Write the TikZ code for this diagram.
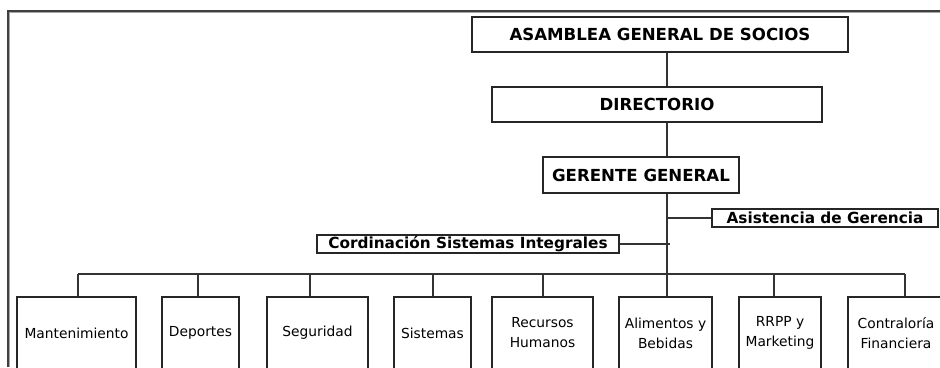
\documentclass[tikz,border=0pt]{standalone}
\usepackage{fontspec}
\setmainfont{DejaVu Sans}
\begin{document}
\begin{tikzpicture}[x=1pt,y=-1pt,
  line width=1.3pt,
  topbox/.style={draw=black!85, line width=1.3pt, inner sep=0pt, font=\bfseries\fontsize{16.6}{19}\selectfont},
  sidebox/.style={draw=black!85, line width=1.3pt, inner sep=0pt, font=\bfseries\fontsize{15.3}{18}\selectfont},
  unitbox/.style={draw=black!85, line width=1.3pt, inner sep=0pt, minimum height=72pt, align=center, font=\fontsize{13.8}{20}\selectfont},
  conn/.style={draw=black!80, line width=1.3pt}]
\useasboundingbox (0,0) rectangle (940,367);
\clip (0,0) rectangle (940,367);
% frame
\draw[black!75, line width=1.6pt] (8,367) -- (8,11) -- (940,11);
\draw[black!35, line width=0.8pt] (9.6,367) -- (9.6,12.6) -- (940,12.6);
% top chain
\node[topbox, minimum width=376pt, minimum height=35pt] (asamblea) at (660,34.5) {ASAMBLEA GENERAL DE SOCIOS};
\node[topbox, minimum width=330pt, minimum height=35pt] (directorio) at (657,104.5) {DIRECTORIO};
\node[topbox, minimum width=196pt, minimum height=36pt] (gerente) at (641,175) {GERENTE GENERAL};
\coordinate (spine) at (667,0);
\coordinate (bus) at (667,274);
\node[sidebox, minimum width=226pt, minimum height=18pt] (asist) at (825,218) {Asistencia de Gerencia};
\node[sidebox, minimum width=302pt, minimum height=18pt] (cord) at (468,244) {Cordinación Sistemas Integrales};
% bottom units
\node[unitbox, minimum width=119pt] (mant) at (76.5,333) {Mantenimiento};
\node[unitbox, minimum width=77pt] (dep) at (200.5,333) {Deportes};
\node[unitbox, minimum width=101pt] (seg) at (317.5,333) {\raisebox{3pt}{Seguridad}};
\node[unitbox, minimum width=77pt] (sis) at (432.5,333) {Sistemas};
\node[unitbox, minimum width=101pt] (rh) at (542.5,333) {Recursos\\Humanos};
\node[unitbox, minimum width=93pt] (ali) at (665.5,333) {Alimentos y\\Bebidas};
\node[unitbox, minimum width=82pt] (rrpp) at (780,333) {RRPP y\\Marketing};
\node[unitbox, minimum width=96pt] (contr) at (896,333) {Contraloría\\Financiera};
% connectors
\draw[conn] (asamblea.south -| spine) -- (directorio.north -| spine);
\draw[conn] (directorio.south -| spine) -- (gerente.north -| spine);
\draw[conn] (gerente.south -| spine) -- (bus);
\draw[conn] (asist.west) -- (asist.west -| spine);
\draw[conn] (cord.east) -- ([xshift=3pt]cord.east -| spine);
\coordinate (busL) at (78,274);
\coordinate (busR) at (905,274);
\draw[conn] (busL) -- (busR);
\draw[conn] ([xshift=1.5pt]mant.north) -- ([xshift=1.5pt]mant.north |- bus);
\draw[conn] ([xshift=-2.5pt]dep.north) -- ([xshift=-2.5pt]dep.north |- bus);
\draw[conn] ([xshift=-7.5pt]seg.north) -- ([xshift=-7.5pt]seg.north |- bus);
\draw[conn] ([xshift=0.5pt]sis.north) -- ([xshift=0.5pt]sis.north |- bus);
\draw[conn] ([xshift=0.5pt]rh.north) -- ([xshift=0.5pt]rh.north |- bus);
\draw[conn] ([xshift=1.5pt]ali.north) -- ([xshift=1.5pt]ali.north |- bus);
\draw[conn] ([xshift=-6pt]rrpp.north) -- ([xshift=-6pt]rrpp.north |- bus);
\draw[conn] ([xshift=9pt]contr.north) -- ([xshift=9pt]contr.north |- bus);
\end{tikzpicture}
\end{document}
